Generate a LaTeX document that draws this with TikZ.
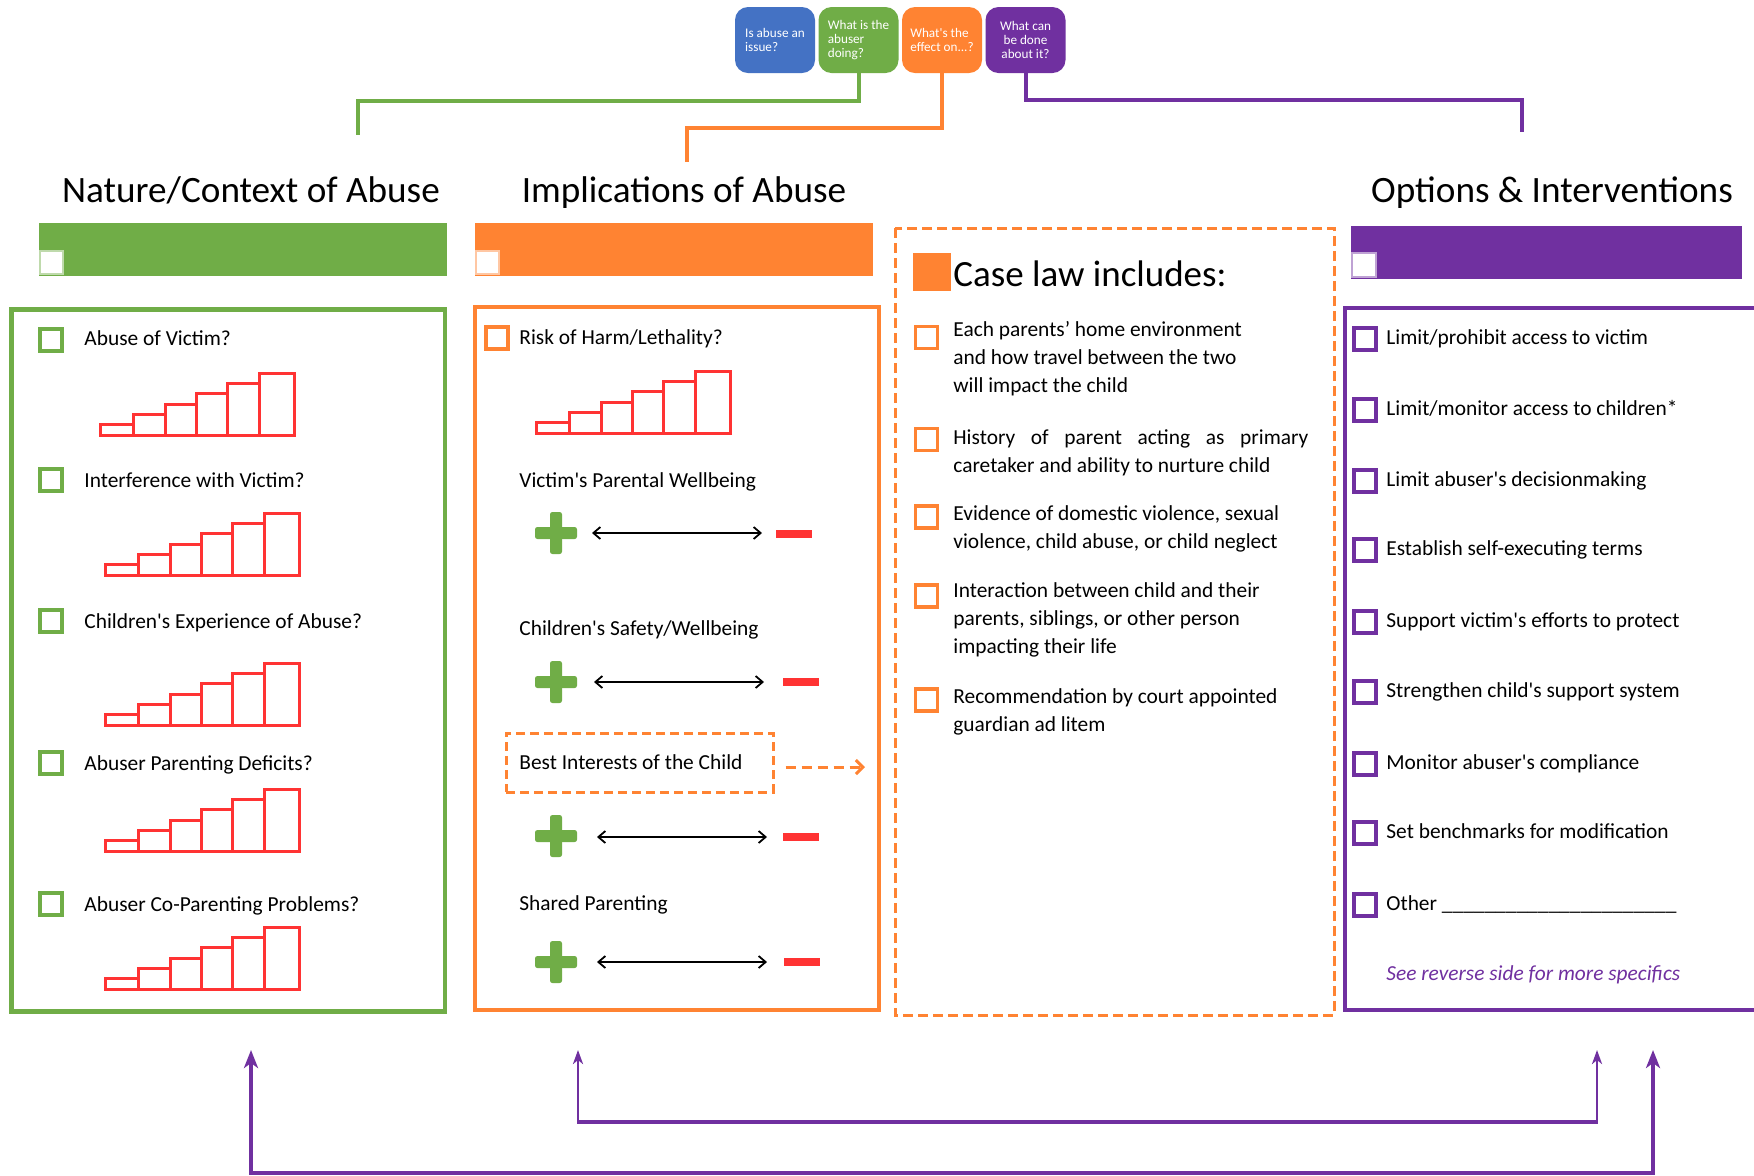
\documentclass[tikz,border=0pt]{standalone}
\usepackage{fontspec}
\setmainfont{Carlito}
\usetikzlibrary{arrows.meta}
\definecolor{cgreen}{HTML}{70AD47}
\definecolor{corange}{HTML}{FF8332}
\definecolor{cpurple}{HTML}{7030A0}
\definecolor{cblue}{HTML}{4472C4}
\definecolor{cred}{HTML}{FF3333}
\newcommand\ap{\textquotesingle}
\tikzset{
  title/.style={font=\fontsize{18.6pt}{22pt}\selectfont, anchor=base, inner sep=0},
  item/.style={font=\fontsize{10.7pt}{14pt}\selectfont, anchor=base west, align=left, inner sep=0},
  cb/.style={draw=#1, line width=2pt, fill=white, minimum size=11pt, inner sep=0},
  topbox/.style={rounded corners=6.5pt, minimum width=40pt, minimum height=33pt, text=white,
    font=\fontsize{6.6pt}{7.2pt}\selectfont, inner sep=0},
  conn/.style={line width=2pt},
  bar/.style={draw=cred, line width=1.5pt},
  dbl/.style={line width=0.9pt, {Straight Barb[length=3.5pt,width=6pt]}-{Straight Barb[length=3.5pt,width=6pt]}},
  minus/.style={fill=cred, minimum width=18pt, minimum height=4pt, inner sep=0},
  stairs/.pic={
    \draw[bar] (0,0) rectangle (33,-11) (33,0) rectangle (65,-21) (65,0) rectangle (96,-31)
      (96,0) rectangle (127,-42) (127,0) rectangle (159,-52) (159,0) rectangle (194,-62);
  },
  plussign/.pic={
    \fill[cgreen, rounded corners=1.2pt] (-6,-21) rectangle (6,21);
    \fill[cgreen, rounded corners=1.2pt] (-21,-6) rectangle (21,6);
  },
}
\begin{document}
\begin{tikzpicture}[x=0.5pt,y=-0.5pt]
\useasboundingbox[fill=white] (0,0) rectangle (1754,1175);

% top question boxes
\node[topbox, fill=cblue, align=left] (q1) at (775,40) {Is abuse an\\issue?};
\node[topbox, fill=cgreen, align=left] (q2) at (858.5,40) {What is the\\abuser\\doing?};
\node[topbox, fill=corange, align=left] (q3) at (942,40) {What\ap s the\\effect on...?};
\node[topbox, fill=cpurple, align=center] (q4) at (1025.5,40) {What can\\be done\\about it?};

\coordinate (g1) at (358,135);
\coordinate (o1) at (687,162);
\coordinate (p1) at (1522,132);
\draw[conn, cgreen] (q2.south) -- ++(0,28) -| (g1);
\draw[conn, corange] (q3.south) -- ++(0,55) -| (o1);
\draw[conn, cpurple] (q4.south) -- ++(0,27) -| (p1);

% titles
\node[title] (t1) at (251,202) {Nature/Context of Abuse};
\node[title] (t2) at (684,202) {Implications of Abuse};
\node[title] (t3) at (1552,202) {Options \& Interventions};

% header bars
\fill[cgreen] (39,223) rectangle (447,276);
\filldraw[fill=white, draw=cgreen!45, line width=0.6pt] (40,251) rectangle (63,274);
\fill[corange] (475,223) rectangle (873,276);
\filldraw[fill=white, draw=corange!45, line width=0.6pt] (476,251) rectangle (499,274);
\fill[cpurple] (1351,226) rectangle (1742,279);
\filldraw[fill=white, draw=cpurple!45, line width=0.6pt] (1352,253) rectangle (1376,277);

% main boxes
\draw[cgreen, line width=2.25pt] (11.5,309.5) rectangle (445,1011.5);
\draw[corange, line width=2pt] (474.5,307) rectangle (878.5,1010);
\draw[corange, line width=1.5pt, dash pattern=on 5pt off 2.5pt] (895,228) rectangle (1334,1015);
\draw[cpurple, line width=2pt] (1754,308) -- (1345,308) -- (1345,1010) -- (1754,1010);

% green column
\node[cb=cgreen] (gc1) at (51,340) {};
\node[cb=cgreen] (gc2) at (51,480) {};
\node[cb=cgreen] (gc3) at (51,621) {};
\node[cb=cgreen] (gc4) at (51,763) {};
\node[cb=cgreen] (gc5) at (51,904) {};
\node[item] (gt1) at (84,345) {Abuse of Victim?};
\node[item] (gt2) at (84,487) {Interference with Victim?};
\node[item] (gt3) at (84,628) {Children\ap s Experience of Abuse?};
\node[item] (gt4) at (84,770) {Abuser Parenting Deficits?};
\node[item] (gt5) at (84,911) {Abuser Co-Parenting Problems?};
\pic at (100,435) {stairs};
\pic at (105,575) {stairs};
\pic at (105,725) {stairs};
\pic at (105,851) {stairs};
\pic at (105,989) {stairs};

% orange column
\node[cb=corange] (oc1) at (496.5,337.5) {};
\node[item] (ot1) at (519,344) {Risk of Harm/Lethality?};
\pic at (536,433) {stairs};
\node[item] (ot2) at (519,487) {Victim\ap s Parental Wellbeing};
\node[item] (ot3) at (519,635) {Children\ap s Safety/Wellbeing};
\node[draw=corange, line width=1.5pt, dash pattern=on 4.5pt off 2.5pt,
  minimum width=133.5pt, minimum height=29.5pt, inner sep=0] (bic) at (639.5,762.5) {};
\node[item] (bict) at (519,769) {Best Interests of the Child};
\coordinate (bicend) at (865,767);
\draw[corange, line width=1.5pt, dash pattern=on 5pt off 3pt,
  -{Straight Barb[length=3.5pt,width=7pt]}] ([shift={(11,4.5)}]bic.east) -- (bicend);
\node[item] (ot4) at (519,910) {Shared Parenting};

% scales
\pic at (556,533) {plussign};
\coordinate (a1l) at (592,533); \coordinate (a1r) at (762,533);
\draw[dbl] (a1l) -- (a1r);
\node[minus] (m1) at (794,534) {};
\pic at (556,682) {plussign};
\coordinate (a2l) at (594,682); \coordinate (a2r) at (764,682);
\draw[dbl] (a2l) -- (a2r);
\node[minus] (m2) at (801,682) {};
\pic at (556,836) {plussign};
\coordinate (a3l) at (597,837); \coordinate (a3r) at (767,837);
\draw[dbl] (a3l) -- (a3r);
\node[minus] (m3) at (801,837) {};
\pic at (556,962) {plussign};
\coordinate (a4l) at (597,962); \coordinate (a4r) at (767,962);
\draw[dbl] (a4l) -- (a4r);
\node[minus] (m4) at (802,962) {};

% case law
\fill[corange] (913,253) rectangle (951,291);
\node[anchor=base west, inner sep=0, font=\fontsize{18.5pt}{22pt}\selectfont] (cl) at (953,286) {Case law includes:};
\node[cb=corange, line width=1.85pt] (cc1) at (926.5,337.5) {};
\node[cb=corange, line width=1.85pt] (cc2) at (926.5,439.5) {};
\node[cb=corange, line width=1.85pt] (cc3) at (926.5,517) {};
\node[cb=corange, line width=1.85pt] (cc4) at (926.5,596) {};
\node[cb=corange, line width=1.85pt] (cc5) at (926.5,700) {};
\node[item] (ct1) at (953,392) {Each parents’ home environment\\and how travel between the two\\will impact the child};
\node[item] (ct2) at (953,472) {\makebox[177.5pt][s]{History of parent acting as primary}\\caretaker and ability to nurture child};
\node[item] (ct3) at (953,548) {Evidence of domestic violence, sexual\\violence, child abuse, or child neglect};
\node[item] (ct4) at (953,653) {Interaction between child and their\\parents, siblings, or other person\\impacting their life};
\node[item] (ct5) at (953,731) {Recommendation by court appointed\\guardian ad litem};

% purple column
\foreach \y/\t [count=\i] in {344/{Limit/prohibit access to victim},
  415/{Limit/monitor access to children*},
  486/{Limit abuser\ap s decisionmaking},
  555/{Establish self-executing terms},
  627/{Support victim\ap s efforts to protect},
  697/{Strengthen child\ap s support system},
  769/{Monitor abuser\ap s compliance},
  838/{Set benchmarks for modification},
  910/{Other \_\_\_\_\_\_\_\_\_\_\_\_\_\_\_\_\_\_\_\_\_\_}}{
  \node[cb=cpurple] (pc\i) at (1364.5,\y-5) {};
  \node[item] (pt\i) at (1386,\y) {\t};
}
\node[item, text=cpurple, font=\fontsize{10.7pt}{14pt}\selectfont\itshape] (rev) at (1386,980) {See reverse side for more specifics};

% bottom arrows
\coordinate (L1) at (251,1050); \coordinate (R1) at (1653,1050);
\coordinate (L2) at (578,1050); \coordinate (R2) at (1597,1050);
\draw[cpurple, line width=1.7pt, {Stealth[length=9pt,width=7pt,inset=2.5pt]}-{Stealth[length=9pt,width=7pt,inset=2.5pt]}]
  (L1) -- (251,1173) -- (1653,1173) -- (R1);
\draw[cpurple, line width=2.2pt] (249,1173) -- (1655,1173);
\draw[cpurple, line width=1.3pt, {Stealth[length=7pt,width=5pt,inset=2pt]}-{Stealth[length=7pt,width=5pt,inset=2pt]}]
  (L2) -- (578,1122) -- (1597,1122) -- (R2);
\draw[cpurple, line width=2.2pt] (577,1122) -- (1598,1122);
\end{tikzpicture}
\end{document}
